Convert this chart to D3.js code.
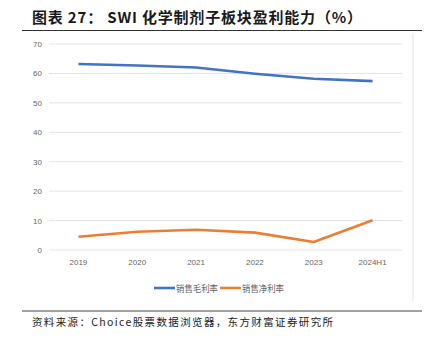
<!DOCTYPE html>
<html>
<head>
<meta charset="utf-8">
<script src="https://cdn.jsdelivr.net/npm/d3@7"></script>
<style>
  body { margin: 0; background: #fff; }
  svg { display: block; }
</style>
</head>
<body>
<svg id="chart" width="430" height="342"></svg>
<script>
var years = ["2019", "2020", "2021", "2022", "2023", "2024H1"];
var grossMargin = [63.2, 62.7, 62.0, 59.9, 58.2, 57.4];
var netMargin = [4.5, 6.2, 6.9, 5.9, 2.7, 10.1];
var yTicks = [0, 10, 20, 30, 40, 50, 60, 70];
var seriesNames = ["销售毛利率", "销售净利率"];
var colors = ["#4472c4", "#ed7d31"];

var svg = d3.select("#chart");
var cjk = "'Noto Sans CJK SC', 'Noto Sans', sans-serif";

// title, stretched to the width it has in the report
svg.append("text")
  .attr("x", 32).attr("y", 23)
  .attr("textLength", 330)
  .attr("lengthAdjust", "spacing")
  .style("font-family", cjk)
  .style("font-weight", "bold")
  .style("font-size", "15px")
  .style("fill", "#1a1a1a")
  .text("图表 27：  SWI 化学制剂子板块盈利能力（%）");

svg.append("line")
  .attr("x1", 22).attr("x2", 422).attr("y1", 30.5).attr("y2", 30.5)
  .style("stroke", "#333").style("stroke-width", 1.2);

// right border of the chart frame
svg.append("line")
  .attr("x1", 413).attr("x2", 413).attr("y1", 33).attr("y2", 301)
  .style("stroke", "#e2e2e2").style("stroke-width", 1);

var x = d3.scaleBand().domain(years).range([49, 402]);
var y = d3.scaleLinear().domain([0, 70]).range([250, 44]);

// grid lines
svg.append("g")
  .selectAll("line")
  .data(yTicks)
  .enter()
  .append("line")
  .attr("x1", 49).attr("x2", 402)
  .attr("y1", (d) => y(d)).attr("y2", (d) => y(d))
  .style("stroke", "#e4e4e4").style("stroke-width", 1);

// y labels
svg.append("g")
  .selectAll("text")
  .data(yTicks)
  .enter()
  .append("text")
  .attr("x", 42).attr("y", (d) => y(d) + 3)
  .attr("text-anchor", "end")
  .style("font-family", "'Liberation Sans Narrow', 'Liberation Sans', sans-serif")
  .style("font-size", "8px")
  .style("fill", "#666")
  .text((d) => d);

// x labels
svg.append("g")
  .selectAll("text")
  .data(years)
  .enter()
  .append("text")
  .attr("x", (d) => x(d) + x.bandwidth() / 2)
  .attr("y", 265)
  .attr("text-anchor", "middle")
  .style("font-family", "'Liberation Sans Narrow', 'Liberation Sans', sans-serif")
  .style("font-size", "8px")
  .style("fill", "#666")
  .text((d) => d);

var line = d3.line()
  .x((d, i) => x(years[i]) + x.bandwidth() / 2)
  .y((d) => y(d));

[grossMargin, netMargin].forEach((s, i) => {
  svg.append("path")
    .datum(s)
    .attr("d", line)
    .style("fill", "none")
    .style("stroke", colors[i])
    .style("stroke-width", 2.6)
    .style("stroke-linejoin", "round");
});

// legend
var legendX = [154, 220];
seriesNames.forEach((name, i) => {
  svg.append("line")
    .attr("x1", legendX[i]).attr("x2", legendX[i] + 21)
    .attr("y1", 288).attr("y2", 288)
    .style("stroke", colors[i]).style("stroke-width", 2.6);
  svg.append("text")
    .attr("x", legendX[i] + 22).attr("y", 291.5)
    .attr("textLength", 42)
    .attr("lengthAdjust", "spacingAndGlyphs")
    .style("font-family", cjk)
    .style("font-size", "9.5px")
    .style("fill", "#666")
    .text(name);
});

// bottom rule and source
svg.append("line")
  .attr("x1", 22).attr("x2", 422).attr("y1", 311).attr("y2", 311)
  .style("stroke", "#444").style("stroke-width", 1.2);

svg.append("text")
  .attr("x", 32).attr("y", 326)
  .attr("textLength", 301)
  .attr("lengthAdjust", "spacing")
  .style("font-family", cjk)
  .style("font-size", "10.5px")
  .style("fill", "#222")
  .text("资料来源：Choice股票数据浏览器，东方财富证券研究所");
</script>
</body>
</html>
